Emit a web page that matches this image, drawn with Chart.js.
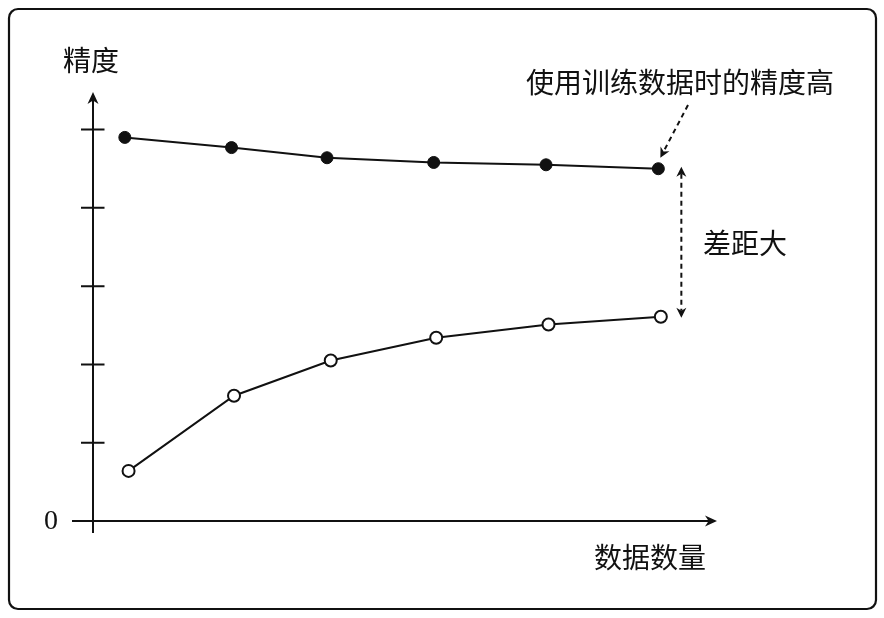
<!DOCTYPE html>
<html>
<head>
<meta charset="utf-8">
<script src="https://cdn.jsdelivr.net/npm/chart.js@4"></script>
<style>
  html, body { margin: 0; padding: 0; background: #fff; }
  canvas { display: block; }
</style>
</head>
<body>
<canvas id="chart" width="884" height="618"></canvas>
<script>
// values (x: share of the data axis, y: accuracy in tick units)
const trainX = [5.1, 22.2, 37.5, 54.6, 72.6, 90.6];
const trainY = [4.90, 4.77, 4.64, 4.58, 4.55, 4.50];
const testX = [5.7, 22.6, 38.1, 55.0, 73.0, 91.0];
const testY = [0.64, 1.60, 2.05, 2.34, 2.51, 2.61];
const yTicks = [1, 2, 3, 4, 5];
const originLabel = '0';
const yTitle = '精度';
const xTitle = '数据数量';
const noteTop = '使用训练数据时的精度高';
const noteGap = '差距大';

const CJK = "'Noto Sans CJK SC', sans-serif";
const ink = '#111';

function toPoints(xs, ys) {
  return xs.map((x, i) => ({ x, y: ys[i] }));
}

function arrowHead(ctx, x, y, angle, len, half) {
  ctx.save();
  ctx.translate(x, y);
  ctx.rotate(angle);
  ctx.beginPath();
  ctx.moveTo(0, 0);
  ctx.lineTo(-len, -half);
  ctx.lineTo(-len * 0.7, 0);
  ctx.lineTo(-len, half);
  ctx.closePath();
  ctx.fill();
  ctx.restore();
}

function dashedArrow(ctx, x1, y1, x2, y2, both) {
  const ang = Math.atan2(y2 - y1, x2 - x1);
  const pad = 7;
  const sx = both ? x1 + Math.cos(ang) * pad : x1;
  const sy = both ? y1 + Math.sin(ang) * pad : y1;
  ctx.save();
  ctx.setLineDash([5, 4]);
  ctx.lineWidth = 2;
  ctx.beginPath();
  ctx.moveTo(sx, sy);
  ctx.lineTo(x2 - Math.cos(ang) * pad, y2 - Math.sin(ang) * pad);
  ctx.stroke();
  ctx.restore();
  arrowHead(ctx, x2, y2, ang, 10, 5);
  if (both) arrowHead(ctx, x1, y1, ang + Math.PI, 10, 5);
}

const decor = {
  id: 'decor',
  beforeDatasetsDraw(chart) {
    const ctx = chart.ctx;
    const xs = chart.scales.x, ys = chart.scales.y;
    const ox = xs.getPixelForValue(0);
    const oy = ys.getPixelForValue(0);
    const top = chart.chartArea.top;
    const right = chart.chartArea.right;

    ctx.save();
    ctx.strokeStyle = ink;
    ctx.fillStyle = ink;

    // frame
    ctx.lineWidth = 2.2;
    ctx.beginPath();
    ctx.roundRect(9, 9, 867, 600, 9);
    ctx.stroke();

    // axes
    ctx.lineWidth = 2;
    ctx.beginPath();
    ctx.moveTo(ox, oy + 12);
    ctx.lineTo(ox, top + 6);
    ctx.moveTo(ox - 21, oy);
    ctx.lineTo(right - 6, oy);
    ctx.stroke();
    arrowHead(ctx, ox, top, -Math.PI / 2, 12, 5.5);
    arrowHead(ctx, right, oy, 0, 12, 5.5);

    // y ticks
    ctx.beginPath();
    yTicks.forEach(v => {
      const py = ys.getPixelForValue(v);
      ctx.moveTo(ox - 12, py);
      ctx.lineTo(ox + 11.5, py);
    });
    ctx.stroke();

    // texts
    ctx.textBaseline = 'middle';
    ctx.textAlign = 'center';
    ctx.font = "28px 'Liberation Serif', serif";
    ctx.fillText(originLabel, 51, oy + 1);
    ctx.font = '28px ' + CJK;
    ctx.fillText(yTitle, 91, 60);
    ctx.fillText(xTitle, 650, 557);
    ctx.fillText(noteTop, 680, 82);
    ctx.fillText(noteGap, 745, 243);

    // annotation arrows
    const lastT = trainX.length - 1;
    const tx = xs.getPixelForValue(trainX[lastT]);
    const ty = ys.getPixelForValue(trainY[lastT]);
    dashedArrow(ctx, 688, 105, tx + 2, ty - 11, false);

    const gx = tx + 23;
    const lastV = testX.length - 1;
    dashedArrow(ctx, gx, ty - 2, gx, ys.getPixelForValue(testY[lastV]) + 1, true);

    ctx.restore();
  }
};

new Chart(document.getElementById('chart'), {
  type: 'line',
  data: {
    datasets: [
      {
        label: 'train',
        data: toPoints(trainX, trainY),
        borderColor: ink,
        borderWidth: 2,
        pointRadius: 6,
        pointBackgroundColor: ink,
        pointBorderColor: ink,
        pointBorderWidth: 1,
        tension: 0
      },
      {
        label: 'test',
        data: toPoints(testX, testY),
        borderColor: ink,
        borderWidth: 2,
        pointRadius: 6,
        pointBackgroundColor: '#fff',
        pointBorderColor: ink,
        pointBorderWidth: 2,
        tension: 0
      }
    ]
  },
  options: {
    responsive: false,
    animation: false,
    clip: false,
    layout: { padding: { left: 93, right: 167, top: 92, bottom: 97 } },
    plugins: {
      legend: { display: false },
      tooltip: { enabled: false }
    },
    scales: {
      x: { type: 'linear', min: 0, max: 100, display: false },
      y: { type: 'linear', min: 0, max: 5.48, display: false }
    }
  },
  plugins: [decor]
});
</script>
</body>
</html>
